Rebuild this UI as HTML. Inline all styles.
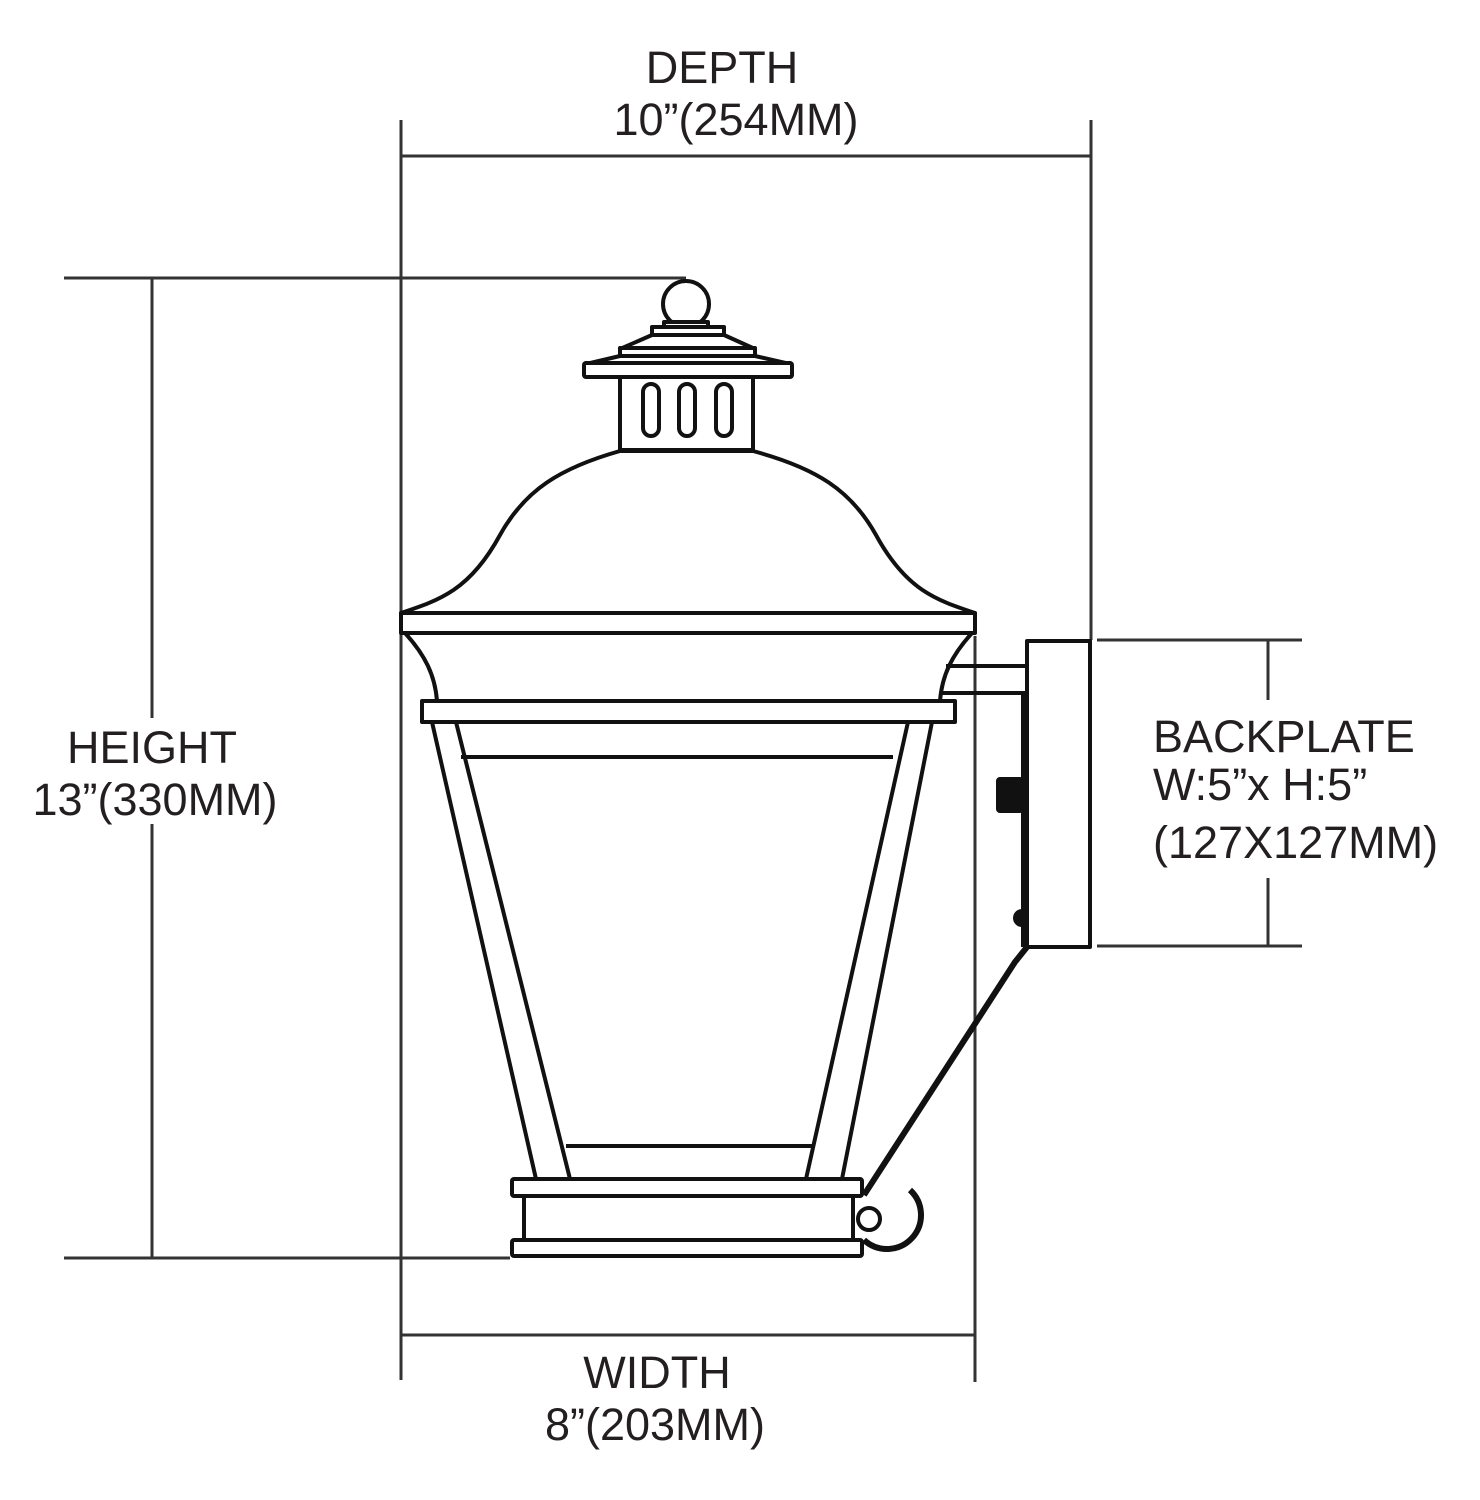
<!DOCTYPE html>
<html><head><meta charset="utf-8"><style>
html,body{margin:0;padding:0;background:#fff;}
svg{display:block;}
text{font-family:"Liberation Sans",sans-serif;font-size:45px;fill:#231f20;}
</style></head><body>
<svg width="1480" height="1500" viewBox="0 0 1480 1500" xmlns="http://www.w3.org/2000/svg">
<g stroke="#333" stroke-width="3" fill="none">
<line x1="401" y1="120" x2="401" y2="1380"/>
<line x1="1091" y1="120" x2="1091" y2="640"/>
<line x1="401" y1="156" x2="1091" y2="156"/>
<line x1="64" y1="278" x2="686" y2="278"/>
<line x1="152" y1="278" x2="152" y2="718"/>
<line x1="152" y1="824" x2="152" y2="1258"/>
<line x1="64" y1="1258" x2="510" y2="1258"/>
<line x1="975" y1="636" x2="975" y2="1382"/>
<line x1="401" y1="1335" x2="975" y2="1335"/>
<line x1="1097" y1="640" x2="1302" y2="640"/>
<line x1="1097" y1="946" x2="1302" y2="946"/>
<line x1="1268" y1="640" x2="1268" y2="700"/>
<line x1="1268" y1="878" x2="1268" y2="946"/>
</g>
<text x="722" y="83" text-anchor="middle">DEPTH</text>
<text x="736" y="135" text-anchor="middle">10”(254MM)</text>
<text x="152" y="763" text-anchor="middle">HEIGHT</text>
<text x="155" y="815" text-anchor="middle">13”(330MM)</text>
<text x="1153" y="752">BACKPLATE</text>
<text x="1153" y="800">W:5”x H:5”</text>
<text x="1153" y="858">(127X127MM)</text>
<text x="657" y="1388" text-anchor="middle">WIDTH</text>
<text x="655" y="1440" text-anchor="middle">8”(203MM)</text>
<g stroke="#111" stroke-width="4" fill="#fff" stroke-linejoin="round">
<circle cx="686" cy="304" r="23"/>
<rect x="664" y="322" width="44" height="6"/>
<rect x="652" y="327" width="72" height="8"/>
<path d="M652,335 L620,349 L755,349 L724,335 Z"/>
<rect x="620" y="348" width="135" height="8"/>
<path d="M620,356 L586,364 L790,364 L755,356 Z"/>
<rect x="584" y="363" width="208" height="14" rx="2"/>
<rect x="620" y="377" width="133" height="73"/>
<rect x="643" y="384" width="16" height="52" rx="8"/>
<rect x="679" y="384" width="16" height="52" rx="8"/>
<rect x="716" y="384" width="16" height="52" rx="8"/>
<path d="M620,451 C560,468 525,490 500,535 C470,590 440,600 401,613 L975,613 C936,600 906,590 876,535 C851,490 816,468 753,451 Z"/>
<rect x="401" y="613" width="574" height="20"/>
<path d="M405,633 C425,655 435,675 437,701 L940,701 C942,675 952,655 972,633 Z"/>
<line x1="946" y1="666" x2="1027" y2="666"/>
<line x1="942" y1="693" x2="1027" y2="693"/>
<rect x="1027" y="641" width="63" height="306"/>
<line x1="1024" y1="695" x2="1024" y2="947" stroke-width="6"/>
<rect x="998" y="779" width="24" height="32" fill="#111" rx="2"/>
<path d="M1022,911 A7,7 0 0 0 1022,925 Z" fill="#111"/>
<polyline points="1027,947 1015,962 864,1195" fill="none" stroke-width="6"/>
<rect x="422" y="701" width="533" height="21"/>
<polygon points="432,722 456,722 570,1179 536,1179" />
<polygon points="908,722 932,722 842,1179 806,1179" />
<line x1="461" y1="757" x2="893" y2="757"/>
<line x1="566" y1="1146" x2="812" y2="1146"/>
<rect x="512" y="1179" width="350" height="17" rx="2"/>
<rect x="524" y="1196" width="329" height="44"/>
<rect x="512" y="1240" width="350" height="16" rx="2"/>
<path d="M910,1190 A33,33 0 1 1 864,1240" fill="none" stroke-width="6"/>
<circle cx="869" cy="1219" r="11"/>
</g>
</svg>
</body></html>
